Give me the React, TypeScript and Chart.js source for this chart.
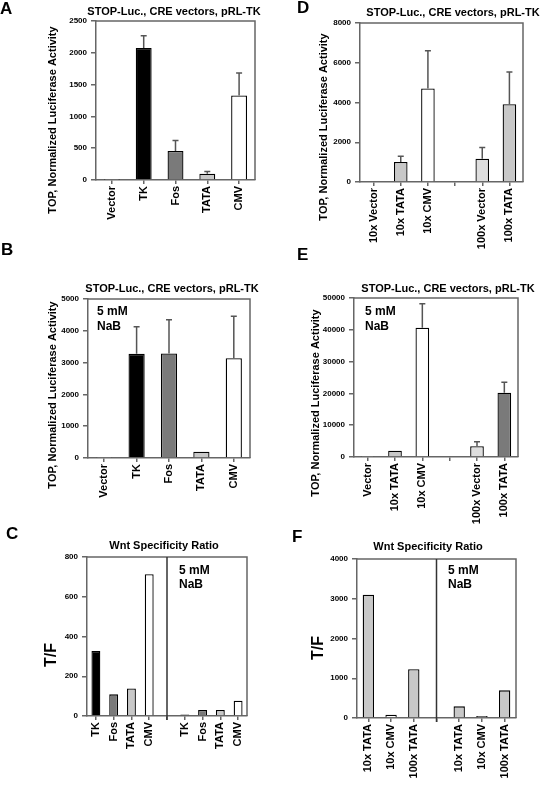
import React, { useEffect, useRef } from "react";
import { Chart, registerables } from "chart.js";

Chart.register(...registerables);

const FONT = '"Liberation Sans", Arial, Helvetica, sans-serif';
const W = 542;
const H = 786;
const Y_W = 40;
const X_H = 72;

// ---------- Panel A ----------
const aLabels = ["Vector", "TK", "Fos", "TATA", "CMV"];
const aValues = [3, 2075, 455, 98, 1330];
const aErrors = [0, 195, 167, 37, 354];
const aTicksMax = 2500;
const aTicksStep = 500;

// ---------- Panel B ----------
const bLabels = ["Vector", "TK", "Fos", "TATA", "CMV"];
const bValues = [15, 3275, 3285, 195, 3140];
const bErrors = [0, 850, 1065, 0, 1315];
const bTicksMax = 5000;
const bTicksStep = 1000;

// ---------- Panel C ----------
const cLabels = ["TK", "Fos", "TATA", "CMV", "", "TK", "Fos", "TATA", "CMV"];
const cValues = [327, 109, 138, 713, null, 8, 30, 30, 77];
const cTicksMax = 800;
const cTicksStep = 200;

// ---------- Panel D ----------
const dLabels = ["10x Vector", "10x TATA", "10x CMV", "", "100x Vector", "100x TATA"];
const dValues = [40, 1010, 4705, null, 1175, 3915];
const dErrors = [0, 285, 1900, null, 555, 1615];
const dTicksMax = 8000;
const dTicksStep = 2000;

// ---------- Panel E ----------
const eLabels = ["Vector", "10x TATA", "10x CMV", "", "100x Vector", "100x TATA"];
const eValues = [150, 1990, 40670, null, 3400, 20230];
const eErrors = [0, 0, 7550, null, 1400, 3250];
const eTicksMax = 50000;
const eTicksStep = 10000;

// ---------- Panel F ----------
const fLabels = ["10x TATA", "10x CMV", "100x TATA", "", "10x TATA", "10x CMV", "100x TATA"];
const fValues = [3100, 84, 1225, null, 293, 50, 696];
const fTicksMax = 4000;
const fTicksStep = 1000;

// ---------- styles ----------
const BLACK = "#000000";
const DARK = "#7a7a7a";
const LIGHT = "#c8c8c8";
const LIGHTER = "#dedede";
const WHITE = "#ffffff";

const TITLE_LUC = "STOP-Luc., CRE vectors, pRL-TK";
const TITLE_WNT = "Wnt Specificity Ratio";
const YT_LUC = "TOP, Normalized Luciferase Activity";
const YT_TF = "T/F";

type Area = { l: number; t: number; r: number; b: number };
type Panel = {
  labels: string[];
  values: (number | null)[];
  errors?: (number | null)[];
  colors: string[];
  max: number;
  step: number;
  area: Area;
  title: string;
  titleX: number;
  titleY: number;
  yTitle: string;
  yTitleX: number;
  yTitleY: number;
  yTitleSize: number;
  letter: string;
  letterX: number;
  letterY: number;
  note?: { x: number; y1: number; y2: number };
  divider?: number;
};

const panels: Panel[] = [
  {
    labels: aLabels, values: aValues, errors: aErrors,
    colors: [WHITE, BLACK, DARK, LIGHT, WHITE],
    max: aTicksMax, step: aTicksStep,
    area: { l: 96, t: 21, r: 255, b: 180 },
    title: TITLE_LUC, titleX: 174, titleY: 12,
    yTitle: YT_LUC, yTitleX: 53, yTitleY: 120, yTitleSize: 11,
    letter: "A", letterX: 0, letterY: 14,
  },
  {
    labels: bLabels, values: bValues, errors: bErrors,
    colors: [WHITE, BLACK, DARK, LIGHT, WHITE],
    max: bTicksMax, step: bTicksStep,
    area: { l: 88, t: 299, r: 250, b: 458 },
    title: TITLE_LUC, titleX: 172, titleY: 289,
    yTitle: YT_LUC, yTitleX: 53, yTitleY: 395, yTitleSize: 11,
    letter: "B", letterX: 1, letterY: 255,
    note: { x: 97, y1: 315, y2: 330 },
  },
  {
    labels: cLabels, values: cValues,
    colors: [BLACK, DARK, LIGHT, WHITE, WHITE, BLACK, DARK, LIGHT, WHITE],
    max: cTicksMax, step: cTicksStep,
    area: { l: 87, t: 557, r: 247, b: 716 },
    title: TITLE_WNT, titleX: 164, titleY: 546,
    yTitle: YT_TF, yTitleX: 52, yTitleY: 655, yTitleSize: 16,
    letter: "C", letterX: 6, letterY: 539,
    note: { x: 179, y1: 574, y2: 588 },
    divider: 4,
  },
  {
    labels: dLabels, values: dValues, errors: dErrors,
    colors: [WHITE, LIGHT, WHITE, WHITE, LIGHTER, LIGHT],
    max: dTicksMax, step: dTicksStep,
    area: { l: 360, t: 23, r: 523, b: 182 },
    title: TITLE_LUC, titleX: 453, titleY: 13,
    yTitle: YT_LUC, yTitleX: 324, yTitleY: 127, yTitleSize: 11,
    letter: "D", letterX: 297, letterY: 13,
  },
  {
    labels: eLabels, values: eValues, errors: eErrors,
    colors: [WHITE, LIGHT, WHITE, WHITE, LIGHTER, DARK],
    max: eTicksMax, step: eTicksStep,
    area: { l: 354, t: 298, r: 518, b: 457 },
    title: TITLE_LUC, titleX: 448, titleY: 289,
    yTitle: YT_LUC, yTitleX: 316, yTitleY: 403, yTitleSize: 11,
    letter: "E", letterX: 297, letterY: 260,
    note: { x: 365, y1: 315, y2: 330 },
  },
  {
    labels: fLabels, values: fValues,
    colors: [LIGHT, WHITE, LIGHT, WHITE, LIGHT, WHITE, LIGHT],
    max: fTicksMax, step: fTicksStep,
    area: { l: 357, t: 559, r: 516, b: 718 },
    title: TITLE_WNT, titleX: 428, titleY: 547,
    yTitle: YT_TF, yTitleX: 319, yTitleY: 648, yTitleSize: 16,
    letter: "F", letterX: 292, letterY: 542,
    note: { x: 448, y1: 574, y2: 588 },
    divider: 3,
  },
];

const decor = {
  id: "decor",
  afterDatasetsDraw(chart: any, _args: any, opts: any) {
    const p: Panel = opts.panel;
    if (!p) return;
    const ctx: CanvasRenderingContext2D = chart.ctx;
    const { left, top, right, bottom } = chart.chartArea;
    const ys = chart.scales.y;
    const xs = chart.scales.x;
    ctx.save();
    // box top / right
    ctx.strokeStyle = "#666";
    ctx.lineWidth = 1.5;
    ctx.beginPath();
    ctx.moveTo(left, top);
    ctx.lineTo(right, top);
    ctx.lineTo(right, bottom);
    ctx.stroke();
    // error bars
    if (p.errors) {
      const meta = chart.getDatasetMeta(0);
      ctx.strokeStyle = "#555";
      ctx.lineWidth = 1.5;
      p.errors.forEach((e, i) => {
        const v = p.values[i];
        if (!e || v == null) return;
        const bar = meta.data[i];
        const px = bar.x;
        const y0 = bar.y;
        const y1 = ys.getPixelForValue(v + e);
        ctx.beginPath();
        ctx.moveTo(px, y0);
        ctx.lineTo(px, y1);
        ctx.moveTo(px - 3, y1);
        ctx.lineTo(px + 3, y1);
        ctx.stroke();
      });
    }
    // divider
    if (p.divider != null) {
      const dx = xs.getPixelForValue(p.divider);
      ctx.strokeStyle = "#333";
      ctx.lineWidth = 1.5;
      ctx.beginPath();
      ctx.moveTo(dx, top);
      ctx.lineTo(dx, bottom + 4);
      ctx.stroke();
    }
    // texts
    ctx.fillStyle = "#000";
    ctx.textAlign = "center";
    ctx.textBaseline = "middle";
    ctx.font = `bold 11px ${FONT}`;
    ctx.fillText(p.title, p.titleX, p.titleY);
    ctx.save();
    ctx.translate(p.yTitleX, p.yTitleY);
    ctx.rotate(-Math.PI / 2);
    ctx.font = `bold ${p.yTitleSize}px ${FONT}`;
    ctx.fillText(p.yTitle, 0, 0);
    ctx.restore();
    ctx.textAlign = "left";
    ctx.textBaseline = "alphabetic";
    ctx.font = `bold 17px ${FONT}`;
    ctx.fillText(p.letter, p.letterX, p.letterY);
    if (p.note) {
      ctx.font = `bold 12px ${FONT}`;
      ctx.fillText("5 mM", p.note.x, p.note.y1);
      ctx.fillText("NaB", p.note.x, p.note.y2);
    }
    ctx.restore();
  },
};

function PanelChart({ p }: { p: Panel }) {
  const ref = useRef<HTMLCanvasElement | null>(null);
  useEffect(() => {
    if (!ref.current) return;
    const chart = new Chart(ref.current, {
      type: "bar",
      data: {
        labels: p.labels,
        datasets: [
          {
            data: p.values as any,
            backgroundColor: p.colors,
            borderColor: "#000",
            borderWidth: 1.3,
            barPercentage: 0.5,
            categoryPercentage: 1,
          },
        ],
      },
      options: {
        responsive: false,
        animation: false,
        devicePixelRatio: 1,
        layout: {
          padding: {
            left: p.area.l - Y_W,
            top: p.area.t,
            right: W - p.area.r,
            bottom: H - p.area.b - X_H,
          },
        },
        plugins: {
          legend: { display: false },
          tooltip: { enabled: false },
          title: { display: false },
          decor: { panel: p },
        } as any,
        scales: {
          x: {
            type: "category",
            offset: true,
            grid: {
              display: true,
              drawOnChartArea: false,
              drawTicks: true,
              tickLength: 4,
              color: "#666",
              lineWidth: 1.5,
              offset: false,
            },
            border: { display: true, color: "#666", width: 1.5 },
            ticks: {
              autoSkip: false,
              maxRotation: 90,
              minRotation: 90,
              padding: 2,
              color: "#000",
              font: { family: FONT, size: 11, weight: "bold" },
            },
            afterFit: (s: any) => {
              s.height = X_H;
            },
          } as any,
          y: {
            min: 0,
            max: p.max,
            ticks: {
              stepSize: p.step,
              padding: 4,
              color: "#000",
              font: { family: FONT, size: 8, weight: "bold" },
              callback: (v: any) => String(v),
            },
            grid: {
              drawOnChartArea: false,
              drawTicks: true,
              tickLength: 5,
              color: "#666",
              lineWidth: 1.5,
            },
            border: { display: true, color: "#666", width: 1.5 },
            afterFit: (s: any) => {
              s.width = Y_W;
            },
          } as any,
        },
      },
      plugins: [decor],
    });
    return () => chart.destroy();
  }, [p]);
  return (
    <canvas
      ref={ref}
      width={W}
      height={H}
      style={{ position: "absolute", left: 0, top: 0, width: W, height: H }}
    />
  );
}

export default function App() {
  return (
    <div
      style={{
        position: "absolute",
        left: 0,
        top: 0,
        width: W,
        height: H,
        background: "#fff",
        overflow: "hidden",
      }}
    >
      {panels.map((p, i) => (
        <PanelChart key={i} p={p} />
      ))}
    </div>
  );
}
